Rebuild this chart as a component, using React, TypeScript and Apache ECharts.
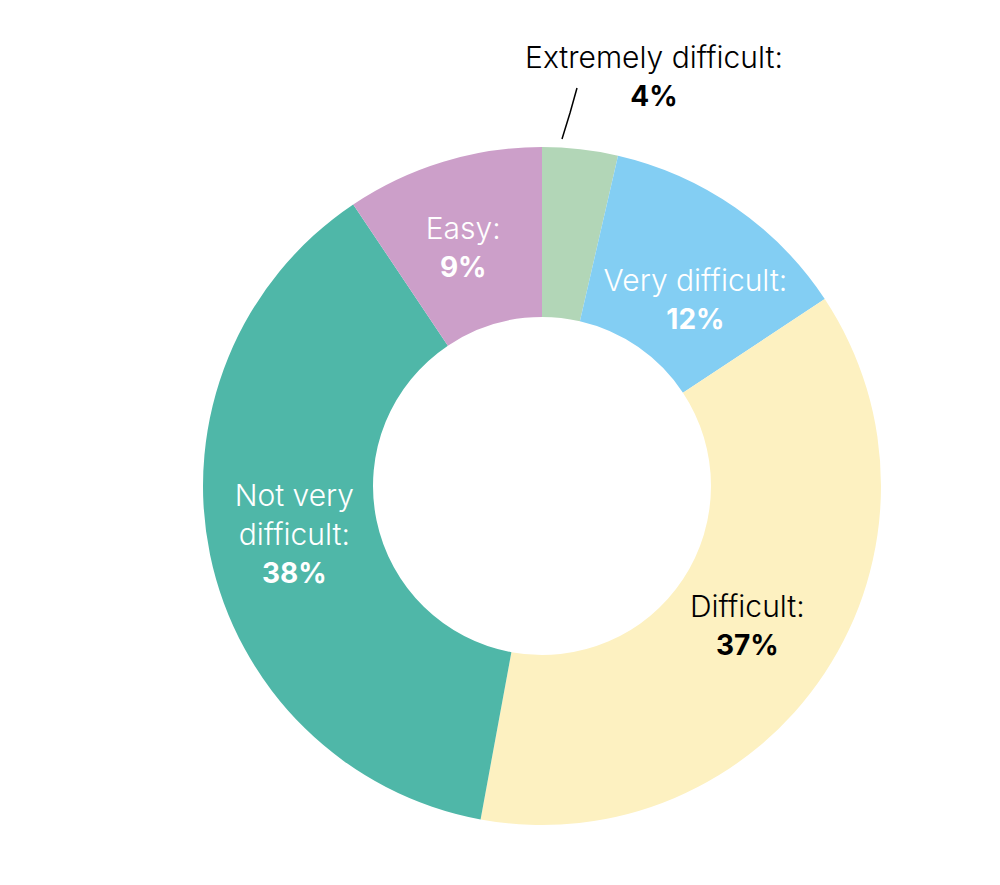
import React, { useEffect, useRef } from "react";
import * as echarts from "echarts";

const categories = ["Extremely difficult", "Very difficult", "Difficult", "Not very difficult", "Easy"];
const labelNames = [["Extremely difficult:"], ["Very difficult:"], ["Difficult:"], ["Not very", "difficult:"], ["Easy:"]];
const values = [3.6, 12.1, 37.2, 37.7, 9.4];
const shownPercents = [4, 12, 37, 38, 9];
const colors = ["#b2d6b7", "#83cef3", "#fdf1c1", "#4fb7a8", "#cc9fc9"];
const labelColors = ["#000000", "#ffffff", "#000000", "#ffffff", "#ffffff"];

export default function App() {
  const ref = useRef<HTMLDivElement>(null);
  useEffect(() => {
    document.body.style.margin = "0";
    const chart = echarts.init(ref.current!, null, { renderer: "svg" });
    const font = "Inter, 'Noto Sans', sans-serif";
    chart.setOption({
      animation: false,
      backgroundColor: "#ffffff",
      series: [
        {
          type: "pie",
          center: [542, 486],
          radius: [169, 339],
          startAngle: 90,
          clockwise: true,
          avoidLabelOverlap: false,
          itemStyle: { borderWidth: 0 },
          emphasis: { disabled: true },
          labelLayout: (p: any) => {
            if (p.dataIndex === 0)
              return {
                x: 654,
                y: 76,
                align: "center",
                verticalAlign: "middle",
                labelLinePoints: [[562, 139], [570, 113], [577, 88]],
              };
            if (p.dataIndex === 1) return { dx: 7, dy: 25 };
            if (p.dataIndex === 2) return { dx: -9, dy: -2 };
            if (p.dataIndex === 3) return { dx: 4, dy: -4 };
            if (p.dataIndex === 4) return { dx: -4, dy: 7 };
            return {};
          },
          data: categories.map((name, i) => ({
            name,
            value: values[i],
            itemStyle: { color: colors[i] },
            label: {
              show: true,
              position: i === 0 ? "outside" : "inside",
              color: labelColors[i],
              formatter: () =>
                labelNames[i].map((l) => `{n|${l}}`).join("\n") + `\n{v|${shownPercents[i]}%}`,
              rich: {
                n: { fontFamily: font, fontSize: 30, fontWeight: 300, lineHeight: 39, color: labelColors[i], align: "center" },
                v: { fontFamily: font, fontSize: 28, fontWeight: 700, lineHeight: 39, color: labelColors[i], align: "center" },
              },
            },
            labelLine: {
              show: i === 0,
              length: 10,
              length2: 0,
              lineStyle: { color: "#000000", width: 1.5 },
            },
          })),
        },
      ],
    });
    return () => chart.dispose();
  }, []);
  return <div ref={ref} style={{ width: 1000, height: 885 }} />;
}
